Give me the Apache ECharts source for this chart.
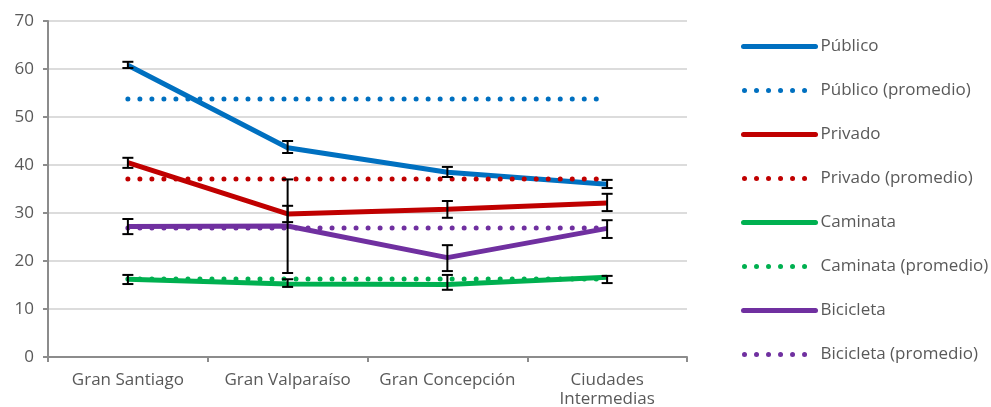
<!DOCTYPE html>
<html>
<head>
<meta charset="utf-8">
<script src="https://cdn.jsdelivr.net/npm/echarts@6/dist/echarts.min.js"></script>
<style>
  html, body { margin: 0; padding: 0; background: #fff; }
  #chart { width: 991px; height: 407px; }
</style>
</head>
<body>
<div id="chart"></div>
<script>
// categorias
var categories = ['Gran Santiago', 'Gran Valparaíso', 'Gran Concepción', 'Ciudades\nIntermedias']
var yTicks = [0, 10, 20, 30, 40, 50, 60, 70]

// valores por modo
var publico = [60.8, 43.6, 38.5, 36.0]
var privado = [40.5, 29.8, 30.8, 32.1]
var caminata = [16.2, 15.2, 15.1, 16.6]
var bicicleta = [27.2, 27.3, 20.7, 26.8]

// promedios
var publicoProm = [53.75, 53.75, 53.75, 53.75]
var privadoProm = [37.1, 37.1, 37.1, 37.1]
var caminataProm = [16.25, 16.25, 16.25, 16.25]
var bicicletaProm = [26.9, 26.9, 26.9, 26.9]

// barras de error (min / max)
var publicoLow = [60.2, 42.5, 37.5, 35.2]
var publicoHigh = [61.5, 45.0, 39.6, 36.9]
var privadoLow = [39.4, 28.1, 29.0, 30.4]
var privadoHigh = [41.5, 31.5, 32.5, 34.0]
var caminataLow = [15.2, 14.6, 14.0, 15.4]
var caminataHigh = [17.1, 16.2, 17.1, 16.9]
var bicicletaLow = [25.6, 17.5, 17.9, 24.8]
var bicicletaHigh = [28.75, 37.0, 23.3, 28.5]

var azul = '#0070C0'
var rojo = '#C00000'
var verde = '#00B050'
var morado = '#7030A0'
var fontFam = '"Open Sans", "Noto Sans", sans-serif'
var dots = [0.01, 12]

function solid (name, color, data) {
  return {
    name: name,
    type: 'line',
    data: data,
    symbol: 'none',
    color: color,
    lineStyle: { color: color, width: 5 },
    z: 2
  }
}

function dotted (name, color, data) {
  return {
    name: name,
    type: 'line',
    data: data,
    symbol: 'none',
    color: color,
    lineStyle: { color: color, width: 5, type: dots, cap: 'round' },
    z: 3
  }
}

function errData (low, high) {
  return low.map(function (l, i) { return [i, l, high[i]] })
}

function legItem (name, color, dotted) {
  return {
    name: name,
    itemStyle: { opacity: 0 },
    lineStyle: dotted
      ? { color: color, width: 5, type: dots, cap: 'round', dashOffset: -1 }
      : { color: color, width: 5, cap: 'round' }
  }
}

var errores = [].concat(
  errData(publicoLow, publicoHigh),
  errData(privadoLow, privadoHigh),
  errData(caminataLow, caminataHigh),
  errData(bicicletaLow, bicicletaHigh)
)

var myChart = echarts.init(document.getElementById('chart'))
var option = {
  backgroundColor: '#fff',
  animation: false,
  textStyle: { fontFamily: fontFam },
  grid: { left: 48, right: 304, top: 21, bottom: 50, containLabel: false, outerBoundsMode: 'none' },
  legend: {
    orient: 'vertical',
    left: 736,
    top: 33,
    itemWidth: 72,
    itemHeight: 17,
    itemGap: 27,
    itemStyle: { opacity: 0 },
    textStyle: { color: '#595959', fontSize: 17, fontFamily: fontFam },
    data: [
      legItem('Público', azul, false),
      legItem('Público (promedio)', azul, true),
      legItem('Privado', rojo, false),
      legItem('Privado (promedio)', rojo, true),
      legItem('Caminata', verde, false),
      legItem('Caminata (promedio)', verde, true),
      legItem('Bicicleta', morado, false),
      legItem('Bicicleta (promedio)', morado, true)
    ]
  },
  xAxis: {
    type: 'category',
    data: categories,
    boundaryGap: true,
    axisLine: { lineStyle: { color: '#8c8c8c', width: 2 } },
    axisTick: { show: true, interval: 0, alignWithLabel: false, length: 5, lineStyle: { color: '#8c8c8c', width: 2 } },
    axisLabel: { interval: 0, color: '#595959', fontSize: 17, margin: 14, lineHeight: 19 }
  },
  yAxis: {
    type: 'value',
    min: yTicks[0],
    max: yTicks[yTicks.length - 1],
    interval: 10,
    axisLine: { show: true, lineStyle: { color: '#8c8c8c', width: 2 } },
    axisTick: { show: true, length: 5, lineStyle: { color: '#8c8c8c', width: 2 } },
    splitLine: { lineStyle: { color: '#d0d0d0', width: 1.5 } },
    axisLabel: { color: '#595959', fontSize: 17, margin: 14 }
  },
  series: [
    solid('Público', azul, publico),
    solid('Privado', rojo, privado),
    solid('Caminata', verde, caminata),
    solid('Bicicleta', morado, bicicleta),
    dotted('Público (promedio)', azul, publicoProm),
    dotted('Privado (promedio)', rojo, privadoProm),
    dotted('Caminata (promedio)', verde, caminataProm),
    dotted('Bicicleta (promedio)', morado, bicicletaProm),
    {
      name: 'error',
      type: 'custom',
      z: 5,
      data: errores,
      renderItem: function (params, api) {
        var lo = api.coord([api.value(0), api.value(1)])
        var hi = api.coord([api.value(0), api.value(2)])
        var w = 5.5
        var st = { stroke: '#000', lineWidth: 2 }
        return {
          type: 'group',
          children: [
            { type: 'line', shape: { x1: lo[0], y1: lo[1], x2: hi[0], y2: hi[1] }, style: st },
            { type: 'line', shape: { x1: lo[0] - w, y1: lo[1], x2: lo[0] + w, y2: lo[1] }, style: st },
            { type: 'line', shape: { x1: hi[0] - w, y1: hi[1], x2: hi[0] + w, y2: hi[1] }, style: st }
          ]
        }
      }
    }
  ]
}
myChart.setOption(option)
</script>
</body>
</html>
